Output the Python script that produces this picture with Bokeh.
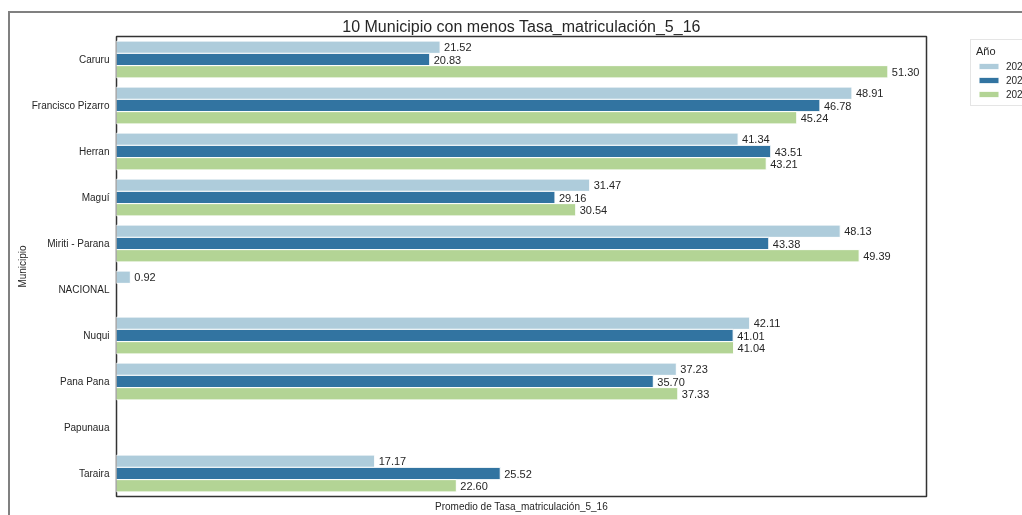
from bokeh.plotting import figure
from bokeh.models import (ColumnDataSource, FactorRange, Range1d, Legend, LegendItem,
                          FixedTicker)
from bokeh.transform import dodge
from bokeh.embed import file_html
from bokeh.resources import INLINE
from bokeh.core.properties import value

municipios = ["Caruru", "Francisco Pizarro", "Herran", "Maguí", "Miriti - Parana",
              "NACIONAL", "Nuqui", "Pana Pana", "Papunaua", "Taraira"]
anios = ["2021", "2022", "2023"]
tasa_2021 = [21.52, 48.91, 41.34, 31.47, 48.13, 0.92, 42.11, 37.23, None, 17.17]
tasa_2022 = [20.83, 46.78, 43.51, 29.16, 43.38, None, 41.01, 35.70, None, 25.52]
tasa_2023 = [51.30, 45.24, 43.21, 30.54, 49.39, None, 41.04, 37.33, None, 22.60]

colores = ["#aeccdb", "#3274a1", "#b3d495"]
FONT = "Liberation Sans"
TXT = "#262626"

p = figure(frame_width=810, frame_height=460,
           y_range=FactorRange(factors=list(reversed(municipios))),
           x_range=Range1d(0, 53.87),
           output_backend="svg", toolbar_location=None,
           min_border_left=106, min_border_right=0, min_border_top=23, min_border_bottom=30,
           title="10 Municipio con menos Tasa_matriculación_5_16")
p.styles = {"border-left": "2px solid #808080", "border-top": "2px solid #808080",
            "position": "fixed", "left": "8px", "top": "11px"}

p.title.align = "center"
p.title.text_font = FONT
p.title.text_font_size = "16px"
p.title.text_font_style = "normal"
p.title.text_color = TXT
p.title.standoff = 4

bw = 0.8 / 3
offsets = [bw, 0.0, -bw]
items = []
for yr, vals, off, col in zip(anios, [tasa_2021, tasa_2022, tasa_2023], offsets, colores):
    ms = [m for m, v in zip(municipios, vals) if v is not None]
    vs = [v for v in vals if v is not None]
    src = ColumnDataSource(dict(muni=ms, val=vs, lab=[f"{v:.2f}" for v in vs]))
    r = p.hbar(y=dodge("muni", off, range=p.y_range), left=0, right="val", height=bw,
               fill_color=col, line_color="white", line_width=1, source=src)
    p.text(x="val", y=dodge("muni", off, range=p.y_range), text="lab", x_offset=4,
           text_baseline="middle", text_align="left", text_font=value(FONT),
           text_font_size="11px", text_color=TXT, source=src)
    items.append(LegendItem(label=yr, renderers=[r]))

legend = Legend(items=items, location=(44, 390), title="Año",
                title_text_font=FONT, title_text_font_size="11px", title_text_font_style="normal",
                title_text_color=TXT, title_standoff=3,
                label_text_font=FONT, label_text_font_size="10px", label_text_color=TXT,
                label_height=12, glyph_height=8, glyph_width=25, spacing=2,
                label_standoff=5, padding=5, margin=0,
                border_line_color="#cccccc", border_line_width=1,
                background_fill_color="white", background_fill_alpha=1.0)
p.add_layout(legend, "right")

p.xaxis.ticker = FixedTicker(ticks=[])
p.xaxis.axis_line_color = None
p.xaxis.major_tick_out = 0
p.xaxis.minor_tick_out = 0
p.xaxis.major_label_standoff = 0
p.xaxis.axis_label = "Promedio de Tasa_matriculación_5_16"
p.xaxis.axis_label_standoff = 4
p.xaxis.axis_label_text_font = FONT
p.xaxis.axis_label_text_font_size = "10px"
p.xaxis.axis_label_text_font_style = "normal"
p.xaxis.axis_label_text_color = TXT

yax = p.yaxis[0]
yax.axis_line_color = None
yax.major_tick_out = 0
yax.major_tick_in = 0
yax.major_label_standoff = 7
yax.major_label_text_font = FONT
yax.major_label_text_font_size = "10px"
yax.major_label_text_color = TXT
yax.axis_label = "Municipio"
yax.axis_label_standoff = 1
yax.axis_label_text_font = FONT
yax.axis_label_text_font_size = "10px"
yax.axis_label_text_font_style = "normal"
yax.axis_label_text_color = TXT

p.xgrid.visible = False
p.ygrid.visible = False
p.outline_line_color = "#333333"
p.outline_line_width = 1.5
p.background_fill_color = "white"
p.border_fill_color = "white"

open("out.html", "w").write(file_html(p, INLINE))
